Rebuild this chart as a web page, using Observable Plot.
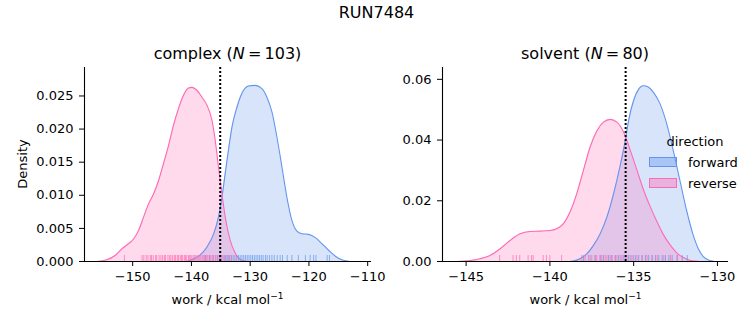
<!DOCTYPE html>
<html><head><meta charset="utf-8">
<script src="https://cdn.jsdelivr.net/npm/d3@7"></script>
<script src="https://cdn.jsdelivr.net/npm/@observablehq/plot@0.6"></script>
<style>
body{margin:0;background:#fff;font-family:"DejaVu Sans",sans-serif;color:#000}
#fig{position:relative;width:753px;height:325px;overflow:hidden;background:#fff}
.abs{position:absolute;white-space:nowrap;line-height:1}
.ctr{transform:translate(-50%,-50%)}
.vc{transform:translate(0,-50%)}
.plotbox{position:absolute;top:40px}
</style></head><body><div id="fig"></div>
<script>
// ---- data ----
const suptitle = "RUN7484";
const directions = ["forward", "reverse"];
const colors = ["#6495ED", "#FF69B4"];

// complex panel: KDE curves (work, density)
const complexForwardX = [-140.8,-139.6,-138.5,-137.35,-136.2,-135.4,-134.8,-134.25,-133.7,-133.1,-132.25,-131.4,-130.3,-129.2,-128.0,-127.15,-126.3,-125.45,-124.6,-123.75,-122.9,-122.05,-121.2,-120.05,-118.9,-117.8,-116.65,-115.5,-114.4,-113.0];
const complexForwardD = [0,0.0004,0.001,0.0022,0.0042,0.0067,0.0097,0.0133,0.0168,0.0203,0.0233,0.0254,0.0265,0.0266,0.0261,0.0248,0.0226,0.0188,0.0143,0.0097,0.0062,0.0046,0.0042,0.0041,0.0036,0.0027,0.0017,0.0008,0.00025,0];
const complexReverseX = [-156.1,-154.4,-153.0,-151.85,-150.7,-149.85,-149.0,-148.15,-147.3,-146.45,-145.6,-144.75,-143.9,-143.05,-142.2,-141.35,-140.5,-139.9,-139.1,-138.2,-137.35,-136.5,-135.95,-135.4,-134.8,-134.25,-133.4,-132.5,-131.7,-130.55];
const complexReverseD = [0,0.00025,0.0009,0.0019,0.0027,0.0034,0.0047,0.0067,0.0087,0.0102,0.0122,0.0148,0.0175,0.0206,0.0231,0.0251,0.0262,0.0263,0.0259,0.0248,0.0236,0.0213,0.0183,0.0143,0.0102,0.0067,0.0032,0.0012,0.0003,0];
// complex panel: rug (individual work values)
const complexForwardWork = [-137.6,-136.9,-136.3,-135.6,-135.2,-134.8,-134.4,-134.1,-133.8,-133.5,-133.2,-132.9,-132.6,-132.3,-132.0,-131.7,-131.4,-131.1,-130.8,-130.5,-130.2,-129.9,-129.6,-129.3,-129.0,-128.7,-128.4,-128.1,-127.8,-127.4,-127.1,-126.7,-126.3,-125.9,-125.4,-124.9,-124.5,-123.7,-122.9,-121.8,-120.6,-119.8,-119.2,-118.8,-116.9,-116.5];
const complexReverseWork = [-151.4,-148.4,-148.1,-147.7,-147.4,-147.0,-146.8,-146.5,-146.1,-145.9,-145.5,-145.2,-144.9,-144.6,-144.4,-144.0,-143.7,-143.5,-143.2,-142.9,-142.7,-142.4,-142.2,-141.9,-141.7,-141.5,-141.2,-141.0,-140.8,-140.5,-140.3,-140.1,-139.9,-139.6,-139.4,-139.2,-138.9,-138.7,-138.5,-138.2,-138.0,-137.8,-137.5,-137.3,-137.0,-136.8,-136.5,-136.2,-135.9,-135.6,-135.3,-135.0,-134.6,-134.2,-133.7,-133.2];
const complexRef = -135.1;

// solvent panel
const solventForwardX = [-138.8,-138.2,-137.8,-137.4,-137.0,-136.6,-136.2,-135.8,-135.5,-135.3,-135.0,-134.72,-134.42,-134.13,-133.83,-133.43,-133.03,-132.64,-132.24,-131.84,-131.44,-131.14,-130.84,-130.45,-130.15];
const solventForwardD = [0,0.0009,0.0025,0.0053,0.0091,0.0146,0.0223,0.0317,0.0399,0.0465,0.0531,0.0566,0.0579,0.0575,0.0558,0.052,0.0454,0.0366,0.0267,0.0168,0.0086,0.0042,0.0016,0.0003,0];
const solventReverseX = [-145.56,-144.76,-144.17,-143.57,-142.97,-142.38,-141.78,-141.18,-140.59,-139.99,-139.6,-139.2,-138.8,-138.4,-138.0,-137.6,-137.2,-136.8,-136.4,-136.0,-135.6,-135.2,-134.8,-134.4,-134.0,-133.6,-133.2,-132.8,-132.4,-132.0,-131.6,-131.0];
const solventReverseD = [0,0.0003,0.0009,0.002,0.0042,0.0069,0.0091,0.0099,0.01,0.0102,0.0108,0.0124,0.0163,0.0223,0.030,0.0377,0.043,0.0459,0.0468,0.0459,0.0426,0.0366,0.030,0.0234,0.0179,0.013,0.0086,0.0053,0.0027,0.0012,0.0003,0];
const solventForwardWork = [-138.0,-137.6,-137.3,-137.0,-136.8,-136.5,-136.3,-136.1,-135.9,-135.7,-135.5,-135.3,-135.1,-134.9,-134.7,-134.5,-134.3,-134.1,-133.9,-133.7,-133.5,-133.3,-133.1,-132.9,-132.7,-132.4,-132.1,-131.8];
const solventReverseWork = [-143.0,-142.2,-142.0,-141.8,-141.3,-141.1,-141.0,-140.4,-140.2,-140.0,-139.3,-138.1,-137.9,-137.7,-137.5,-137.3,-137.2,-137.0,-136.9,-136.7,-136.6,-136.4,-136.3,-136.1,-136.0,-135.8,-135.6,-135.4,-135.2,-135.0,-134.8,-134.5,-134.2,-133.9,-133.6,-133.2,-132.8,-132.4];
const solventRef = -135.48;

// axes ticks / domains
const complexXTicks = [-150,-140,-130,-120,-110];
const complexYTicks = [0,0.005,0.01,0.015,0.02,0.025];
const solventXTicks = [-145,-140,-135,-130];
const solventYTicks = [0,0.02,0.04,0.06];

// ---- drawing ----
const fig = document.getElementById("fig");
function panel(o) {
  const fwd = o.fx.map((x,i)=>({x, d:o.fd[i]}));
  const rev = o.rx.map((x,i)=>({x, d:o.rd[i]}));
  const H = 285, mt = 27, mb = 64;
  const fh = H - mt - mb;
  const p = Plot.plot({
    width: o.width, height: H,
    marginLeft: o.ml, marginRight: o.mr, marginTop: mt, marginBottom: mb,
    style: {fontFamily: "DejaVu Sans", fontSize: "13px", background: "none", overflow: "visible", color: "#000"},
    x: {domain: o.xDomain, label: null},
    y: {domain: o.yDomain, label: null},
    marks: [
      Plot.areaY(fwd, {x:"x", y:"d", fill: colors[0], fillOpacity: 0.25, curve: "monotone-x"}),
      Plot.areaY(rev, {x:"x", y:"d", fill: colors[1], fillOpacity: 0.25, curve: "monotone-x"}),
      Plot.lineY(fwd, {x:"x", y:"d", stroke: colors[0], strokeWidth: 1.1, curve: "monotone-x"}),
      Plot.lineY(rev, {x:"x", y:"d", stroke: colors[1], strokeWidth: 1.1, curve: "monotone-x"}),
      Plot.tickX(o.fw, {x: d=>d, stroke: colors[0], strokeOpacity: 0.7, insetTop: fh - 6}),
      Plot.tickX(o.rw, {x: d=>d, stroke: colors[1], strokeOpacity: 0.7, insetTop: fh - 6}),
      Plot.ruleX([o.ref], {stroke: "#000", strokeWidth: 2, strokeDasharray: "2,2"}),
      Plot.ruleY([o.yDomain[0]], {stroke: "#000", strokeWidth: 1.1}),
      Plot.ruleX([o.xDomain[0]], {stroke: "#000", strokeWidth: 1.1}),
      Plot.axisX({ticks: o.xTicks, tickFormat: d3.format("d"), tickSize: 5, tickPadding: 5, label: null}),
      Plot.axisY({ticks: o.yTicks, tickFormat: d3.format(o.yFmt), tickSize: 5, tickPadding: 6, label: null})
    ]
  });
  const box = document.createElement("div");
  box.className = "plotbox";
  box.style.left = o.left + "px";
  box.appendChild(p);
  fig.appendChild(box);
}
panel({fx: complexForwardX, fd: complexForwardD, rx: complexReverseX, rd: complexReverseD,
  fw: complexForwardWork, rw: complexReverseWork, ref: complexRef,
  xDomain: [-158.2, -109.35], yDomain: [0, 0.0293], xTicks: complexXTicks, yTicks: complexYTicks, yFmt: ".3f",
  width: 380, ml: 84, mr: 9, left: 0});
panel({fx: solventForwardX, fd: solventForwardD, rx: solventReverseX, rd: solventReverseD,
  fw: solventForwardWork, rw: solventReverseWork, ref: solventRef,
  xDomain: [-146.41, -129.34], yDomain: [0, 0.0639], xTicks: solventXTicks, yTicks: solventYTicks, yFmt: ".2f",
  width: 373, ml: 62, mr: 25, left: 380});

function txt(html, x, y, size, cls, extra) {
  const d = document.createElement("div");
  d.className = "abs " + cls;
  d.style.left = x + "px"; d.style.top = y + "px"; d.style.fontSize = size + "px";
  if (extra) Object.assign(d.style, extra);
  d.innerHTML = html;
  fig.appendChild(d);
  return d;
}
txt(suptitle, 376.5, 13, 16, "ctr");
txt("complex (<i>N</i>&#8201;=&#8201;103)", 227.5, 54, 16, "ctr");
txt("solvent (<i>N</i>&#8201;=&#8201;80)", 585, 54, 16, "ctr");
txt("work / kcal mol<sup style='font-size:9px;vertical-align:5px'>\u22121</sup>", 227.5, 299, 13, "ctr");
txt("work / kcal mol<sup style='font-size:9px;vertical-align:5px'>\u22121</sup>", 585.5, 299, 13, "ctr");
txt("Density", 21.5, 164, 13, "ctr", {transform: "translate(-50%,-50%) rotate(-90deg)"});
// legend
txt("direction", 695, 141, 13, "ctr");
const patchY = [162, 182.5];
directions.forEach((name, i) => {
  const r = document.createElement("div");
  r.style.cssText = `position:absolute;left:649px;top:${patchY[i]-5}px;width:28px;height:10px;box-sizing:border-box;border:1px solid ${colors[i]};background:${colors[i]}`;
  r.style.background = d3.color(colors[i]).copy({opacity: 0.4}).formatRgb();
  fig.appendChild(r);
  txt(name, 688, patchY[i], 13, "vc");
});
</script></body></html>
